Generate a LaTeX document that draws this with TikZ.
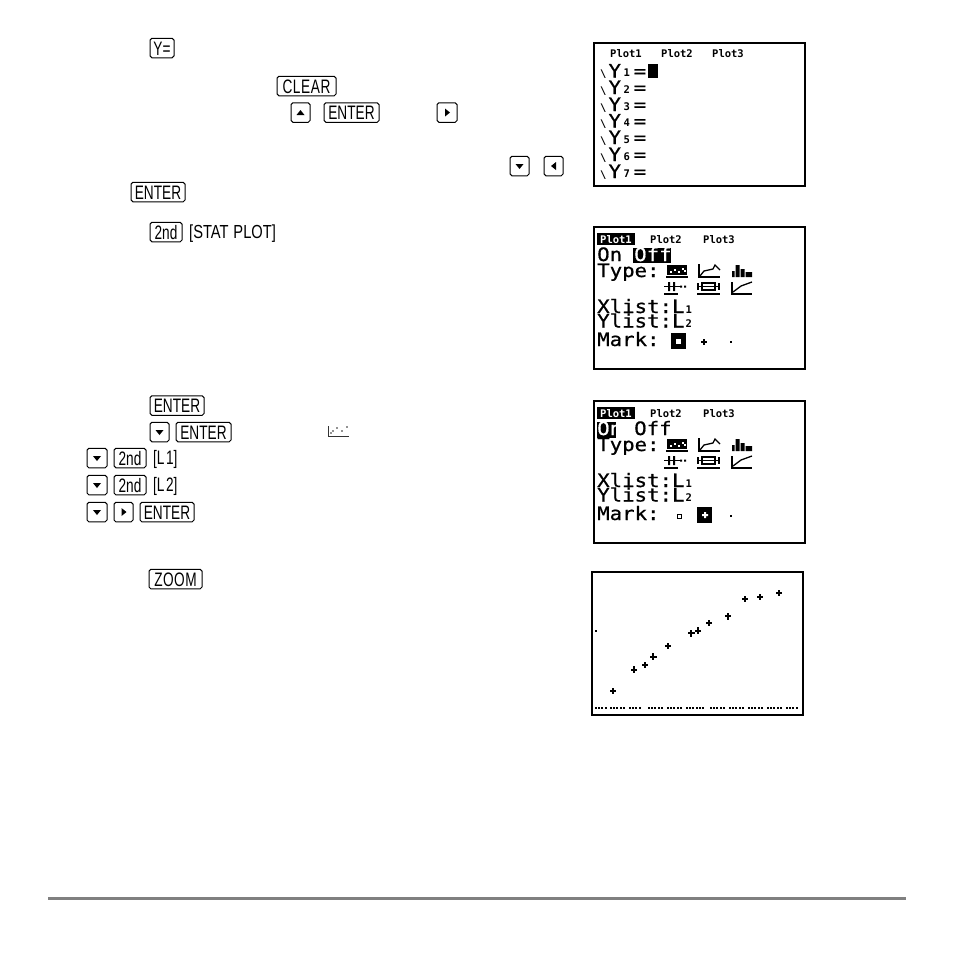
\documentclass[tikz,border=0pt]{standalone}
\usepackage{fontspec}
\setmainfont{Liberation Sans}
\newfontfamily\keyfont[FakeStretch=0.70]{Liberation Sans}
\newfontfamily\scrfont[FakeStretch=1.12,FakeBold=0.7]{DejaVu Sans Mono}
\newfontfamily\scrbold{DejaVu Sans Mono Bold}
\newcommand{\lcdL}{\scrfont\fontsize{18.5}{19}\selectfont}
\newcommand{\lcdS}{\scrbold\fontsize{10.5}{11}\selectfont}
\newcommand{\keyT}{\keyfont\fontsize{19.5}{20}\selectfont}
\newcommand{\keyS}{\keyfont\fontsize{17.5}{18}\selectfont}
\tikzset{
  x=1pt,y=-1pt,
  key/.style={draw=black,line width=1pt,rounded corners=1.8pt,inner sep=0pt,minimum height=19.5pt,text height=14pt,text depth=0pt,font=\keyT},
  brk/.style={inner sep=0pt,anchor=base west,font=\keyT},
  lcd/.style={inner sep=0pt,anchor=base west,font=\lcdL,text=black,text height=9pt,text depth=0pt},
  lcds/.style={inner sep=0pt,anchor=base west,font=\lcdS,text=black,text height=6pt,text depth=0pt},
  frame/.style={draw=black,line width=2pt,fill=white},
  ic/.style={line width=1.3pt,draw=black},
}
% Key placed by its pixel box
\newcommand{\keybox}[6]{\node[key,minimum width=#4pt-#3pt] (#1) at ({(#3+#4)/2},{(#5+#6)/2}) {#2};}
\newcommand{\arrowup}[1]{\fill (#1.center) ++(-4,2.5) -- ++(8,0) -- ++(-4,-5) -- cycle;}
\newcommand{\arrowdn}[1]{\fill (#1.center) ++(-4,-2) -- ++(8,0) -- ++(-4,5) -- cycle;}
\newcommand{\arrowrt}[1]{\fill (#1.center) ++(-2,-4) -- ++(0,8) -- ++(5,-4) -- cycle;}
\newcommand{\arrowlt}[1]{\fill (#1.center) ++(2.5,-4) -- ++(0,8) -- ++(-5,-4) -- cycle;}
\newcommand{\yrow}[3]{\node[lcd] (#1) at (600,#2) {{\lcdS\textbackslash}\kern2pt Y\kern2.5pt\raisebox{1pt}{\lcdS#3}\kern4pt{=}};}
\newcommand{\plus}[2]{\fill (#1-3.3,#2-1.1) rectangle (#1+3.3,#2+1.1); \fill (#1-1.1,#2-3.3) rectangle (#1+1.1,#2+3.3);}
\newcommand{\typeicons}{%
  \fill (667,265) rectangle (687,275);
  \foreach \a/\b in {670/271,674/269,678/271,682/268,684/270} {\fill[white] (\a,\b) rectangle (\a+1.6,\b+1.6);}
  \draw[ic] (666,277) -- (688,277);
  \draw[ic] (699,264) -- (699,277) -- (720,277);
  \draw[ic] (700,276) -- (704,271) -- (713,269) -- (715,265) -- (720,270);
  \fill (732,271) rectangle (734.5,277) (735.5,265) rectangle (739.5,277) (740.5,269) rectangle (744.5,277) (745.5,272) rectangle (752,277);
  \draw[ic] (664,294) -- (678,294);
  \draw[ic] (664,286.5) -- (682,286.5);
  \fill (668,282) rectangle (670,291) (673,282) rectangle (675,291);
  \fill (680,285.5) rectangle (682,287.5) (684,285.5) rectangle (686,287.5);
  \draw[ic] (697,294) -- (720,294);
  \draw[ic] (702,283) rectangle (715,290);
  \draw[ic] (697,286.5) -- (720,286.5) (698,283) -- (698,290) (719,283) -- (719,290);
  \draw[ic] (732,282) -- (732,294) -- (752,294);
  \draw[ic] (733,292) -- (741,286) -- (752,282);
}
\newcommand{\listlines}[1]{%
  \node[lcd] (xl#1) at (597,313) {Xlist:L\kern1pt{\lcdS1}};
  \node[lcd] (yl#1) at (597,327.5) {Ylist:L\kern1pt{\lcdS2}};
}
\begin{document}
\begin{tikzpicture}
\useasboundingbox (0,0) rectangle (954,954);
\fill[white] (0,0) rectangle (954,954);

% ---- keys ----
\keybox{kY}{Y=}{150}{174}{38}{58}
\keybox{kClear}{C\kern.6pt L\kern.6pt E\kern.6pt A\kern.6pt R}{277}{336}{76}{96}
\keybox{kUp}{}{291}{310}{103}{122}\arrowup{kUp}
\keybox{kEnterA}{ENTER}{324}{379}{103}{122}
\keybox{kRightA}{}{437}{457}{103}{122}\arrowrt{kRightA}
\keybox{kDownA}{}{510}{529}{156}{176}\arrowdn{kDownA}
\keybox{kLeftA}{}{544}{563}{156}{176}\arrowlt{kLeftA}
\keybox{kEnterB}{ENTER}{131}{185}{182}{202}
\keybox{k2ndA}{2nd}{150}{182}{222}{242}
\node[brk,font=\keyS] (statplot) at (189,238) {\scalebox{1.2}[1.08]{[STAT\kern4pt PLOT]}};

\keybox{kEnterC}{ENTER}{150}{204}{396}{415}
\keybox{kDownB}{}{150}{169}{422}{442}\arrowdn{kDownB}
\keybox{kEnterD}{ENTER}{176}{231}{422}{442}
\keybox{kDownC}{}{87}{107}{448}{468}\arrowdn{kDownC}
\keybox{k2ndB}{2nd}{114}{146}{448}{468}
\node[brk] (lone) at (153,464) {[L\kern1.5pt 1]};
\keybox{kDownD}{}{87}{107}{475}{495}\arrowdn{kDownD}
\keybox{k2ndC}{2nd}{114}{146}{475}{495}
\node[brk] (ltwo) at (153,491) {[L\kern1.5pt 2]};
\keybox{kDownE}{}{87}{107}{502}{522}\arrowdn{kDownE}
\keybox{kRightB}{}{114}{133}{502}{522}\arrowrt{kRightB}
\keybox{kEnterE}{ENTER}{140}{194}{502}{522}
\keybox{kZoom}{Z\kern.5pt O\kern.5pt O\kern.5pt M}{149}{202}{569}{589}

% scatter icon in the text
\draw[line width=.8pt,black!80] (328,426) -- (328,436.5) -- (349,436.5);
\foreach \a/\b in {331/433,333/431,337/428,342/431,347/427} {\fill[black!85] (\a,\b) circle (.8);}

% ---- screen 1 ----
\draw[frame] (594,43) rectangle (804.5,186);
\node[lcds] (s1p1) at (610,57.5) {Plot1};
\node[lcds] (s1p2) at (661,57.5) {Plot2};
\node[lcds] (s1p3) at (712,57.5) {Plot3};
\yrow{y1}{77.5}{1}
\yrow{y2}{94}{2}
\yrow{y3}{111}{3}
\yrow{y4}{127.5}{4}
\yrow{y5}{144}{5}
\yrow{y6}{161}{6}
\yrow{y7}{178}{7}
\fill (648,64) rectangle (658,78);

% ---- screen 2 ----
\draw[frame] (594,227) rectangle (804.5,369);
\fill (597,233) rectangle (635,245);
\node[lcds,text=white] (s2p1) at (600,243.5) {Plot1};
\node[lcds] (s2p2) at (650,243.5) {Plot2};
\node[lcds] (s2p3) at (703,243.5) {Plot3};
\node[lcd] (s2on) at (597,261) {On};
\fill (633,248) rectangle (671,263);
\node[lcd,text=white] (s2off) at (634,261) {Off};
\node[lcd] (s2type) at (597,277) {Type:};
\typeicons
\listlines{b}
\node[lcd] (s2mark) at (597,346) {Mark:};
\fill (671,333) rectangle (686,349);
\fill[white] (676,339) rectangle (681,344);
\plus{704}{342}
\fill (729.5,341) rectangle (731.5,343);

% ---- screen 3 ----
\draw[frame] (594,401) rectangle (804.5,543);
\begin{scope}[shift={(0,174)}]
\fill (597,233) rectangle (635,244.5);
\node[lcds,text=white] (s3p1) at (600,243) {Plot1};
\node[lcds] (s3p2) at (650,243) {Plot2};
\node[lcds] (s3p3) at (703,243) {Plot3};
\fill (597,248) rectangle (616,264);
\node[lcd,text=white] (s3on) at (597,261) {On};
\node[lcd] (s3off) at (634,261) {Off};
\node[lcd] (s3type) at (597,277) {Type:};
\typeicons
\listlines{c}
\node[lcd] (s3mark) at (597,346) {Mark:};
\draw[line width=1.4pt] (677.7,340.7) rectangle (681.7,344.7);
\fill (697,333) rectangle (712,349);
\fill[white] (702,340) rectangle (708,342) (704,338) rectangle (706,344);
\fill (729.5,341) rectangle (731.5,343);
\end{scope}

% ---- screen 4 ----
\draw[frame] (592,572) rectangle (802.5,715);
\plus{613}{691}
\plus{634}{669.7}
\plus{645}{665}
\plus{653.3}{656.7}
\plus{668}{646}
\plus{691.3}{633.3}
\plus{698}{630.7}
\plus{709}{623}
\plus{728}{616.3}
\plus{745}{599}
\plus{760}{597}
\plus{779}{593}
\fill (595,630) rectangle (597,632);
\foreach \s/\e in {595/605,610/625,629/640,648/663,667/682,686/705,710/725,729/744,748/763,767/782,786/797}
  {\pgfmathsetmacro{\nxt}{\s+3.2}
   \foreach \a in {\s,\nxt,...,\e} {\fill (\a,707) rectangle (\a+1.9,708.8);}}

% ---- rule ----
\draw[line width=3pt,draw=black!50] (48,898) -- (906,898);
\end{tikzpicture}
\end{document}
